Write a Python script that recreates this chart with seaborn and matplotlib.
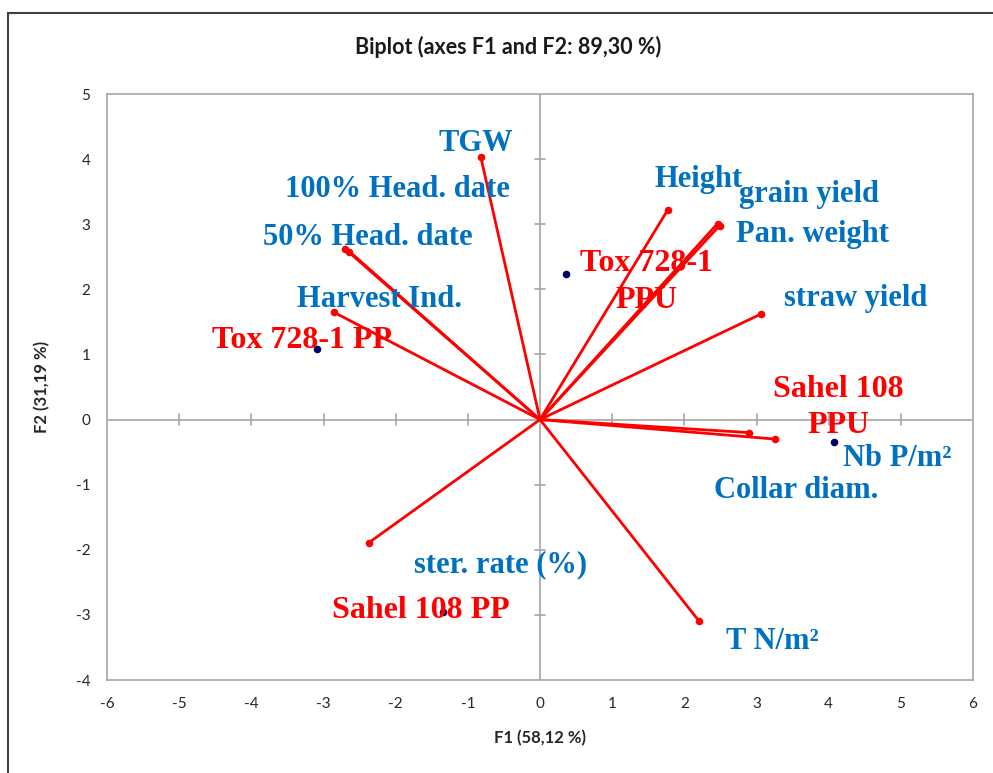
import matplotlib
matplotlib.use("Agg")
import matplotlib.pyplot as plt
import seaborn as sns
import pandas as pd
import numpy as np
from matplotlib.patches import Rectangle

# ---- data ----
var_names = ["TGW", "100% Head. date", "50% Head. date", "Harvest Ind.", "Height",
             "grain yield", "Pan. weight", "straw yield", "Nb P/m²", "Collar diam.",
             "ster. rate (%)", "T N/m²"]
var_f1 = [-0.82, -2.70, -2.64, -2.86, 1.77, 2.46, 2.49, 3.06, 2.89, 3.26, -2.37, 2.20]
var_f2 = [4.03, 2.62, 2.58, 1.65, 3.22, 3.01, 2.98, 1.62, -0.20, -0.30, -1.89, -3.09]

obs_names = ["Tox 728-1\nPPU", "Sahel 108\nPPU", "Tox 728-1 PP", "Sahel 108 PP"]
obs_f1 = [0.36, 4.07, -3.09, -1.34]
obs_f2 = [2.23, -0.35, 1.08, -2.96]

# label anchor positions (centre x, last-line baseline y), in data units
var_lab_x = [-0.89, -1.97, -2.39, -2.22, 2.20, 3.73, 3.78, 4.37, 4.95, 3.55, -0.55, 3.22]
var_lab_y = [4.13, 3.42, 2.68, 1.73, 3.57, 3.34, 2.73, 1.75, -0.71, -1.20, -2.34, -3.52]
obs_lab_x = [1.48, 4.13, -3.30, -1.65]
obs_lab_y = [1.72, -0.21, 1.10, -3.05]

title = "Biplot (axes F1 and F2: 89,30 %)"
xlabel = "F1 (58,12 %)"
ylabel = "F2 (31,19 %)"
xticks = list(range(-6, 7))
yticks = list(range(-4, 6))

BLUE = "#0070C0"
RED = "#FF0000"
NAVY = "#000066"
GRID = "#A6A6A6"

sns.set_theme(style="white")
plt.rcParams["font.family"] = ["Lato", "DejaVu Sans"]
plt.rcParams["axes.unicode_minus"] = False

fig = plt.figure(figsize=(9.93, 7.73), dpi=100)
ax = fig.add_axes([107/993, 1-680/773, (973-107)/993, (680-94)/773])

vars_df = pd.DataFrame({"F1": var_f1, "F2": var_f2, "name": var_names})
obs_df = pd.DataFrame({"F1": obs_f1, "F2": obs_f2, "name": obs_names})

# zero axes
ax.axhline(0, color=GRID, lw=1.2, zorder=1)
ax.axvline(0, color=GRID, lw=1.2, zorder=1)
# cross tick marks on zero axes
for xt in xticks:
    if xt != 0 and abs(xt) != 6:
        ax.plot([xt, xt], [-0.08, 0.08], color=GRID, lw=1.2, zorder=1)
for yt in yticks:
    if yt != 0 and yt not in (-4, 5):
        ax.plot([-0.07, 0.07], [yt, yt], color=GRID, lw=1.2, zorder=1)

# vectors
for x, y in zip(var_f1, var_f2):
    ax.plot([0, x], [0, y], color=RED, lw=2, zorder=2)
sns.scatterplot(data=vars_df, x="F1", y="F2", color=RED, s=30, edgecolor=RED,
                linewidth=0, ax=ax, zorder=3)
sns.scatterplot(data=obs_df, x="F1", y="F2", color=NAVY, s=30, edgecolor=NAVY,
                linewidth=0, ax=ax, zorder=3)

serif = ["Liberation Serif", "DejaVu Serif"]
for name, x, y in zip(var_names, var_lab_x, var_lab_y):
    ax.text(x, y, name, color=BLUE, fontsize=22, fontweight="bold", family=serif,
            ha="center", va="baseline", zorder=4)
for name, x, y in zip(obs_names, obs_lab_x, obs_lab_y):
    ax.text(x, y, name, color=RED, fontsize=23, fontweight="bold", family=serif,
            ha="center", va="baseline", linespacing=1.35, zorder=4)

ax.set_xlim(-6, 6)
ax.set_ylim(-4, 5)
ax.set_xticks(xticks)
ax.set_yticks(yticks)
ax.tick_params(axis="both", length=0, labelsize=11, labelcolor="#262626", pad=12)
for sp in ax.spines.values():
    sp.set_color(GRID)
    sp.set_linewidth(1.2)
ax.set_xlabel(xlabel, fontsize=12, fontweight="bold", color="#262626", labelpad=14)
ax.set_ylabel(ylabel, fontsize=12, fontweight="bold", color="#262626", labelpad=18)

fig.text(508/993, 1-47/773, title, ha="center", va="center", fontsize=15.5,
         fontweight="bold", color="#1a1a1a")

fig.patches.append(Rectangle((8/993, -0.05), 1.2, 1-13/773+0.05, transform=fig.transFigure,
                             fill=False, edgecolor="#404040", lw=1.5))

fig.savefig("out.png", dpi=100)
